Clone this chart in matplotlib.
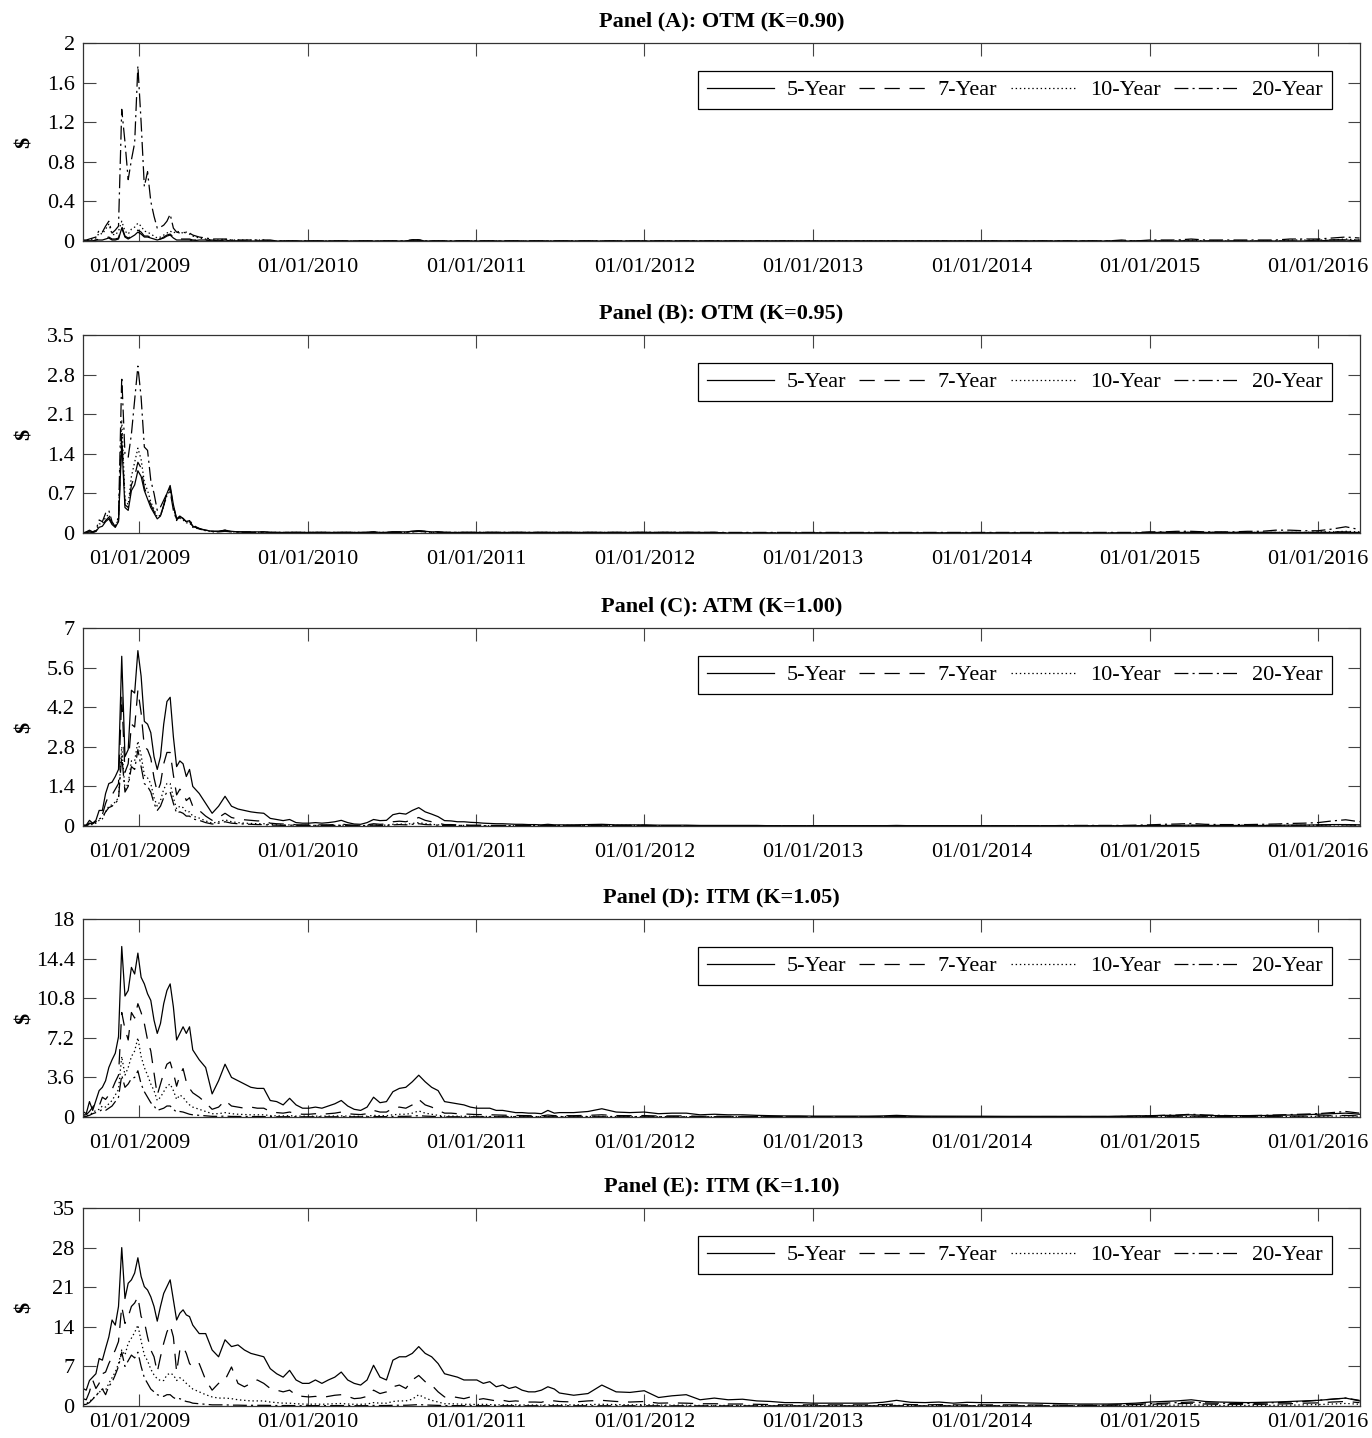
import matplotlib.pyplot as plt
import matplotlib.dates as mdates
from matplotlib.ticker import FixedLocator, FormatStrFormatter
import pandas as pd

plt.rcParams['font.family'] = ['Liberation Serif', 'DejaVu Serif']
plt.rcParams['lines.scale_dashes'] = False

# sample dates: weekly over the crisis, bi-weekly to mid 2011, monthly after
dates = (list(pd.date_range('2008-09-01', '2009-04-27', freq='7D'))
         + list(pd.date_range('2009-05-11', '2011-06-20', freq='14D'))
         + list(pd.date_range('2011-07-01', '2016-03-01', freq='MS'))
         + [pd.Timestamp('2016-03-31')])

# ---------------- Panel A: OTM (K=0.90)
A_5Y = [
    0, 0, 0, 0, .01, .01, .01, .02, .03, .01,
    .01, .02, .13, .04, .02, .04, .06, .09, .07, .04,
    .04, .03, .02, .01, .02, .03, .05, .06, .03, .01,
    .01, .01, .01, .01, 0,
    .01, .01, 0, 0, .01, 0, 0, 0, 0, 0,
    0, 0, 0, 0, 0, 0, 0, 0, 0, 0,
    0, 0, 0, 0, 0, 0, 0, 0, 0, 0,
    0, 0, 0, .01, .01, 0, 0, 0, 0, 0,
    0, 0, 0, 0, 0, 0, 0, 0, 0, 0,
    0, 0, 0, 0, 0, 0,
    0, 0, 0, 0, 0, 0, 0, 0, 0, 0,
    0, 0, 0, 0, 0, 0, 0, 0, 0, 0,
    0, 0, 0, 0, 0, 0, 0, 0, 0, 0,
    0, 0, 0, 0, 0, 0, 0, 0, 0, 0,
    0, 0, 0, 0, 0, 0, 0, 0, 0, 0,
    0, 0, 0, 0, 0, .01, .01, 0,
]
A_7Y = [
    0, 0, 0, 0, .01, .02, .02, .03, .04, .02,
    .02, .03, .15, .05, .03, .05, .07, .11, .09, .05,
    .05, .04, .03, .02, .02, .04, .06, .07, .04, .02,
    .02, .02, .02, .02, .01,
    .01, .01, .01, 0, .01, 0, 0, 0, 0, 0,
    0, 0, 0, 0, 0, 0, 0, 0, 0, 0,
    0, 0, 0, 0, 0, 0, 0, 0, 0, 0,
    0, 0, 0, .01, .01, 0, 0, 0, 0, 0,
    0, 0, 0, 0, 0, 0, 0, 0, 0, 0,
    0, 0, 0, 0, 0, 0,
    0, 0, 0, 0, 0, 0, 0, 0, 0, 0,
    0, 0, 0, 0, 0, 0, 0, 0, 0, 0,
    0, 0, 0, 0, 0, 0, 0, 0, 0, 0,
    0, 0, 0, 0, 0, 0, 0, 0, 0, 0,
    0, 0, 0, 0, 0, 0, 0, 0, 0, 0,
    0, 0, 0, 0, .01, .01, .01, .01,
]
A_10Y = [
    0, 0, .01, .02, .03, .08, .07, .12, .17, .07,
    .06, .1, .2, .1, .07, .12, .14, .18, .15, .1,
    .09, .07, .05, .03, .04, .06, .08, .1, .08, .1,
    .09, .08, .09, .07, .05,
    .03, .02, .01, .01, .02, .01, .01, .01, .01, .01,
    .01, 0, 0, 0, 0, 0, 0, 0, 0, 0,
    0, 0, 0, 0, 0, 0, 0, 0, 0, 0,
    0, 0, 0, .01, .01, 0, 0, 0, 0, 0,
    0, 0, 0, 0, 0, 0, 0, 0, 0, 0,
    0, 0, 0, 0, 0, 0,
    0, 0, 0, 0, 0, 0, 0, 0, 0, 0,
    0, 0, 0, 0, 0, 0, 0, 0, 0, 0,
    0, 0, 0, 0, 0, 0, 0, 0, 0, 0,
    0, 0, 0, 0, 0, 0, 0, 0, 0, 0,
    0, 0, 0, 0, 0, .01, 0, 0, 0, 0,
    0, 0, .01, .01, .01, .01, .02, .01,
]
A_20Y = [
    .01, .01, .02, .03, .04, .11, .09, .15, .2, .08,
    .11, .15, 1.33, 1.0, .62, .82, .99, 1.77, 1.2, .55,
    .7, .4, .25, .13, .14, .16, .2, .27, .13, .09,
    .08, .09, .08, .08, .06,
    .04, .03, .02, .02, .02, .01, .01, .01, .01, .01,
    .01, .01, 0, 0, 0, 0, 0, 0, 0, 0,
    0, 0, 0, 0, 0, 0, 0, 0, 0, 0,
    0, 0, 0, .01, .01, 0, 0, 0, 0, 0,
    0, 0, 0, 0, 0, 0, 0, 0, 0, 0,
    0, 0, 0, 0, 0, 0,
    0, 0, 0, 0, 0, 0, 0, 0, 0, 0,
    0, 0, 0, 0, 0, 0, 0, 0, 0, 0,
    0, 0, 0, 0, 0, 0, 0, 0, 0, 0,
    0, 0, 0, 0, 0, 0, 0, 0, 0, 0,
    .01, 0, .01, .01, .01, .02, .01, .01, .01, .01,
    .01, .01, .02, .02, .02, .03, .04, .03,
]

# ---------------- Panel B: OTM (K=0.95)
B_5Y = [
    0, .01, .02, .01, .03, .1, .12, .2, .25, .15,
    .1, .2, 1.6, .45, .4, .75, .85, 1.1, 1.0, .75,
    .6, .45, .35, .25, .3, .5, .7, .84, .5, .25,
    .3, .25, .2, .22, .12,
    .07, .05, .03, .03, .05, .03, .02, .02, .02, .02,
    .02, .01, .01, .01, .01, .01, .01, .01, .01, .01,
    .01, .01, .01, .01, .01, .01, .01, .02, .01, .01,
    .02, .02, .02, .03, .04, .03, .02, .02, .01, .01,
    .01, .01, .01, .01, .01, .01, .01, .01, .01, .01,
    .01, .01, .01, .01, .01, .01,
    .01, .01, .01, .01, .01, .01, .01, .01, .01, .01,
    .01, .01, 0, 0, 0, 0, 0, 0, 0, 0,
    0, 0, 0, 0, 0, 0, 0, 0, 0, 0,
    0, 0, 0, 0, 0, 0, 0, 0, 0, 0,
    0, 0, .01, .01, .01, .01, .01, .01, .01, .01,
    .01, .01, .01, .01, .01, .01, .01, .01,
]
B_7Y = [
    0, .01, .02, .01, .03, .12, .14, .22, .28, .17,
    .11, .22, 1.75, .5, .45, .85, 1.0, 1.25, 1.15, .8,
    .65, .5, .38, .26, .3, .48, .68, .8, .48, .24,
    .28, .25, .2, .2, .12,
    .08, .05, .03, .03, .05, .03, .02, .02, .02, .02,
    .02, .01, .01, .01, .01, .01, .01, .01, .01, .01,
    .01, .01, .01, .01, .01, .01, .01, .02, .01, .01,
    .02, .02, .02, .03, .04, .03, .02, .02, .01, .01,
    .01, .01, .01, .01, .01, .01, .01, .01, .01, .01,
    .01, .01, .01, .01, .01, .01,
    .01, .01, .01, .01, .01, .01, .01, .01, .01, .01,
    .01, .01, 0, 0, 0, 0, 0, 0, 0, 0,
    0, 0, 0, 0, 0, 0, 0, 0, 0, 0,
    0, 0, 0, 0, 0, 0, 0, 0, 0, 0,
    0, 0, .01, .01, .01, .01, .01, .01, .01, .01,
    .01, .01, .01, .01, .01, .02, .02, .01,
]
B_10Y = [
    0, .01, .03, .02, .04, .16, .16, .28, .33, .18,
    .11, .25, 2.0, .6, .5, 1.0, 1.25, 1.5, 1.3, .9,
    .75, .55, .42, .28, .32, .48, .66, .75, .45, .22,
    .26, .23, .18, .18, .1,
    .07, .04, .02, .02, .04, .02, .02, .01, .01, .01,
    .01, .01, .01, .01, .01, .01, .01, .01, .01, .01,
    .01, .01, .01, .01, .01, .01, .01, .01, .01, .01,
    .01, .01, .01, .02, .03, .02, .01, .01, .01, .01,
    .01, .01, .01, .01, .01, .01, .01, .01, .01, .01,
    .01, .01, .01, .01, .01, .01,
    .01, .01, .01, .01, .01, .01, .01, .01, .01, .01,
    0, 0, 0, 0, 0, 0, 0, 0, 0, 0,
    0, 0, 0, 0, 0, 0, 0, 0, 0, 0,
    0, 0, 0, 0, 0, 0, 0, 0, 0, 0,
    0, 0, .01, .01, .01, .01, .01, .01, .01, .01,
    .01, .01, .01, .01, .02, .02, .03, .02,
]
B_20Y = [
    0, .02, .05, .02, .05, .23, .2, .35, .4, .2,
    .11, .29, 2.76, 1.4, 1.34, 1.75, 2.34, 2.95, 2.4, 1.52,
    1.46, .93, .7, .4, .46, .58, .7, .73, .4, .23,
    .29, .26, .2, .23, .14,
    .08, .05, .03, .02, .03, .02, .02, .01, .01, .01,
    .01, .01, .01, .01, .01, .01, .01, .01, .01, .01,
    .01, .01, .01, .01, .01, .01, .01, .01, .01, .01,
    .01, .01, .01, .02, .03, .02, .01, .01, .01, .01,
    .01, .01, .01, .01, .01, .01, .01, .01, .01, .01,
    .01, .01, .01, .01, .01, .01,
    .01, .01, .01, .01, .01, .01, .01, .01, .01, .01,
    .01, .01, .01, .01, .01, .01, .01, .01, .01, .01,
    .01, .01, .01, .01, .01, .01, .01, .01, .01, .01,
    .01, .01, .01, .01, .01, .01, .01, .01, .01, .01,
    .01, .01, .02, .02, .03, .03, .02, .02, .02, .03,
    .03, .05, .05, .04, .04, .07, .11, .06,
]

# ---------------- Panel C: ATM (K=1.00)
C_5Y = [
    .03, .03, .2, .1, .2, .55, .55, 1.15, 1.5, 1.55,
    1.75, 2.0, 6.0, 2.45, 2.7, 4.8, 4.7, 6.2, 5.3, 3.7,
    3.6, 3.3, 2.45, 2.0, 2.45, 3.6, 4.4, 4.55, 3.15, 2.1,
    2.3, 2.2, 1.75, 2.0, 1.4,
    1.15, .8, .45, .7, 1.05, .7, .6, .55, .5, .47,
    .45, .27, .23, .19, .23, .12, .1, .1, .12, .1,
    .12, .15, .2, .12, .07, .06, .12, .23, .19, .2,
    .4, .45, .42, .55, .65, .5, .42, .33, .19, .18,
    .15, .15, .13, .12, .1, .09, .08, .08, .07, .06,
    .06, .05, .05, .04, .06, .04,
    .04, .04, .05, .06, .04, .04, .04, .03, .03, .03,
    .02, .02, .02, .02, .02, .01, .01, .01, .01, .01,
    .01, .01, .01, .01, .02, .01, .01, .01, .01, .01,
    .01, .01, .01, .01, .01, .01, .01, .01, .01, .01,
    .01, .01, .02, .02, .02, .03, .02, .02, .02, .02,
    .02, .02, .03, .03, .04, .05, .05, .04,
]
C_7Y = [
    .02, .02, .1, .08, .15, .35, .4, .8, 1.1, 1.1,
    1.3, 1.5, 4.6, 1.9, 2.2, 3.6, 3.5, 4.8, 4.0, 2.8,
    2.7, 2.4, 1.7, 1.2, 1.5, 2.2, 2.6, 2.6, 1.8, 1.1,
    1.3, 1.2, .9, 1.0, .7,
    .55, .35, .2, .3, .45, .3, .25, .22, .2, .18,
    .18, .1, .08, .07, .08, .04, .04, .04, .04, .04,
    .04, .05, .07, .04, .03, .02, .04, .08, .06, .07,
    .15, .17, .15, .22, .3, .2, .15, .1, .05, .05,
    .04, .04, .03, .03, .03, .02, .02, .02, .02, .02,
    .02, .02, .02, .02, .02, .02,
    .02, .02, .02, .03, .02, .02, .02, .01, .01, .01,
    .01, .01, .01, .01, .01, .01, .01, .01, .01, .01,
    .01, .01, .01, .01, .01, .01, .01, .01, .01, .01,
    .01, .01, .01, .01, .01, .01, .01, .01, .01, .01,
    .01, .01, .01, .01, .02, .02, .02, .02, .02, .02,
    .02, .02, .02, .03, .03, .04, .04, .03,
]
C_10Y = [
    .01, .01, .05, .05, .1, .2, .25, .5, .7, .75,
    .85, 1.0, 2.8, 1.3, 1.5, 2.3, 2.3, 3.0, 2.5, 1.8,
    1.7, 1.5, 1.0, .7, .9, 1.3, 1.5, 1.5, 1.0, .6,
    .7, .65, .5, .5, .35,
    .28, .18, .1, .15, .22, .15, .12, .1, .09, .08,
    .08, .05, .04, .03, .04, .02, .02, .02, .02, .02,
    .02, .02, .03, .02, .01, .01, .02, .04, .03, .03,
    .06, .07, .06, .09, .12, .08, .06, .04, .02, .02,
    .02, .02, .01, .01, .01, .01, .01, .01, .01, .01,
    .01, .01, .01, .01, .01, .01,
    .02, .02, .02, .03, .02, .02, .02, .01, .01, .01,
    .01, .01, .01, .01, .01, .01, .01, .01, .01, .01,
    .01, .01, .01, .01, .01, .01, .01, .01, .01, .01,
    .01, .01, .01, .01, .01, .01, .01, .01, .01, .01,
    .01, .01, .01, .01, .01, .02, .01, .01, .01, .01,
    .01, .02, .02, .02, .03, .04, .04, .03,
]
C_20Y = [
    .01, .02, .08, .1, .15, .25, .3, .5, .65, .7,
    .8, .95, 2.5, 1.2, 1.4, 2.1, 2.0, 2.7, 2.1, 1.5,
    1.4, 1.2, .8, .55, .7, 1.0, 1.2, 1.2, .8, .45,
    .5, .45, .35, .35, .25,
    .2, .12, .07, .1, .15, .1, .08, .07, .06, .05,
    .05, .03, .03, .02, .03, .02, .02, .02, .02, .02,
    .02, .02, .02, .02, .01, .01, .02, .03, .02, .02,
    .04, .05, .04, .06, .08, .05, .04, .03, .02, .02,
    .02, .02, .01, .01, .01, .01, .01, .01, .01, .01,
    .01, .01, .01, .01, .01, .01,
    .01, .01, .01, .01, .01, .01, .01, .01, .01, .01,
    .01, .01, .01, .01, .01, .01, .01, .01, .01, .01,
    .01, .01, .01, .01, .01, .01, .01, .01, .01, .01,
    .01, .01, .01, .01, .01, .01, .02, .02, .02, .02,
    .02, .03, .04, .06, .07, .09, .06, .05, .05, .05,
    .06, .07, .09, .1, .12, .18, .22, .15,
]

# ---------------- Panel D: ITM (K=1.05)
D_5Y = [
    .5, .3, 1.4, .6, 1.5, 2.4, 2.7, 3.3, 4.5, 5.2,
    5.8, 7.3, 15.5, 11.0, 11.5, 13.6, 13.0, 14.9, 12.7, 12.1,
    11.2, 10.6, 8.8, 7.6, 8.5, 10.3, 11.5, 12.1, 10.0, 7.0,
    7.6, 8.2, 7.6, 8.2, 6.1,
    5.2, 4.5, 2.1, 3.3, 4.8, 3.6, 3.3, 3.0, 2.7, 2.6,
    2.6, 1.5, 1.4, 1.1, 1.7, 1.1, .8, .8, .9, .8,
    1.0, 1.2, 1.5, 1.0, .7, .6, .9, 1.8, 1.3, 1.4,
    2.3, 2.6, 2.7, 3.2, 3.8, 3.2, 2.7, 2.4, 1.4, 1.3,
    1.2, 1.1, .9, .8, .8, .8, .6, .6, .5, .4,
    .4, .35, .35, .3, .6, .35,
    .4, .4, .5, .75, .45, .4, .45, .3, .35, .35,
    .2, .25, .2, .2, .15, .12, .1, .1, .08, .08,
    .08, .08, .08, .1, .15, .1, .08, .08, .07, .07,
    .07, .06, .06, .06, .06, .05, .05, .05, .05, .06,
    .08, .1, .12, .15, .15, .2, .15, .12, .12, .12,
    .13, .15, .18, .2, .25, .3, .35, .25,
]
D_7Y = [
    .2, .2, .5, .9, 1.3, 1.0, 1.8, 1.6, 2.0, 2.5,
    3.2, 3.8, 9.5, 8.0, 7.0, 9.5, 9.0, 10.3, 9.5, 8.5,
    7.0, 6.0, 4.0, 2.0, 3.0, 4.0, 4.8, 5.0, 4.0, 2.8,
    3.8, 4.4, 3.2, 2.6, 2.2,
    1.8, 1.3, .7, .9, 1.5, 1.0, .9, .8, .9, .8,
    .8, .5, .4, .35, .45, .3, .25, .25, .3, .25,
    .3, .35, .45, .3, .25, .22, .3, .6, .45, .45,
    .8, .9, .8, 1.1, 1.6, 1.1, .9, .6, .35, .35,
    .3, .28, .25, .22, .22, .2, .18, .17, .15, .14,
    .13, .12, .12, .1, .18, .12,
    .12, .12, .15, .2, .13, .12, .13, .09, .1, .1,
    .06, .07, .06, .06, .05, .04, .03, .03, .03, .03,
    .03, .03, .03, .03, .05, .03, .03, .03, .03, .03,
    .03, .03, .03, .02, .02, .02, .02, .02, .02, .02,
    .03, .04, .05, .06, .06, .08, .06, .05, .05, .05,
    .05, .06, .07, .08, .1, .12, .14, .1,
]
D_10Y = [
    .1, .1, .2, .4, .6, .7, 1.0, .9, 1.2, 1.5,
    2.0, 2.5, 5.5, 3.8, 4.5, 5.5, 6.0, 7.2, 5.5, 4.5,
    3.8, 3.0, 2.4, 1.5, 1.8, 2.3, 2.8, 3.0, 2.4, 1.6,
    2.0, 1.8, 1.4, 1.1, .9,
    .7, .5, .3, .3, .4, .3, .25, .22, .2, .2,
    .2, .13, .1, .1, .12, .08, .07, .07, .07, .07,
    .08, .09, .1, .08, .06, .06, .07, .15, .12, .12,
    .2, .25, .25, .35, .55, .35, .25, .15, .08, .08,
    .07, .07, .06, .06, .05, .05, .05, .04, .04, .04,
    .04, .04, .04, .03, .05, .04,
    .04, .04, .05, .06, .04, .04, .04, .03, .03, .03,
    .02, .02, .02, .02, .02, .01, .01, .01, .01, .01,
    .01, .01, .01, .01, .02, .01, .01, .01, .01, .01,
    .01, .01, .01, .01, .01, .01, .01, .01, .01, .01,
    .01, .02, .02, .03, .03, .04, .03, .03, .03, .03,
    .03, .03, .04, .05, .06, .08, .1, .07,
]
D_20Y = [
    .05, .05, .15, .3, .4, .5, .7, .6, .8, 1.0,
    1.4, 1.8, 3.8, 2.7, 3.0, 3.5, 3.6, 4.2, 3.0, 2.3,
    1.8, 1.3, 1.0, .6, .7, .8, 1.0, 1.0, .7, .45,
    .5, .45, .35, .25, .2,
    .15, .1, .06, .06, .08, .05, .05, .04, .04, .04,
    .04, .03, .02, .02, .03, .02, .02, .02, .02, .02,
    .02, .02, .02, .02, .01, .01, .02, .04, .03, .03,
    .05, .06, .06, .08, .12, .08, .06, .04, .02, .02,
    .02, .02, .02, .02, .02, .01, .01, .01, .01, .01,
    .01, .01, .01, .01, .02, .01,
    .01, .01, .02, .02, .01, .01, .01, .01, .01, .01,
    .01, .01, .01, .01, .01, .01, .01, .01, .01, .01,
    .01, .01, .01, .01, .02, .01, .01, .01, .01, .01,
    .01, .01, .01, .01, .01, .01, .01, .01, .02, .03,
    .05, .08, .1, .15, .18, .25, .18, .15, .12, .12,
    .15, .18, .22, .25, .3, .4, .5, .35,
]

# ---------------- Panel E: ITM (K=1.10)
E_5Y = [
    3.1, 2.8, 4.5, 5.1, 5.7, 8.4, 8.1, 10.2, 12.2, 15.2,
    14.3, 17.6, 28.0, 19.0, 21.7, 22.3, 23.5, 26.2, 22.9, 21.1,
    20.5, 19.3, 17.6, 15.0, 17.6, 19.9, 21.1, 22.3, 18.8, 15.2,
    16.4, 17.0, 16.1, 15.8, 14.3,
    12.8, 12.8, 9.9, 8.7, 11.7, 10.5, 10.8, 9.9, 9.3, 9.0,
    8.7, 6.6, 5.7, 5.1, 6.3, 4.6, 4.0, 4.0, 4.6, 4.0,
    4.6, 5.1, 6.0, 4.6, 4.0, 3.7, 4.6, 7.2, 5.1, 4.6,
    8.1, 8.7, 8.7, 9.3, 10.5, 9.3, 8.7, 7.5, 5.7, 5.4,
    5.1, 4.6, 4.6, 4.6, 4.0, 4.3, 3.4, 3.7, 3.1, 3.4,
    2.8, 2.5, 2.5, 2.8, 3.4, 3.0,
    2.3, 1.9, 2.2, 3.7, 2.5, 2.4, 2.7, 1.5, 1.8, 2.0,
    1.1, 1.4, 1.1, 1.2, .9, .8, .6, .6, .5, .5,
    .5, .5, .5, .65, 1.0, .65, .6, .7, .5, .65,
    .6, .6, .6, .55, .5, .45, .4, .35, .35, .35,
    .4, .5, .7, .8, .9, 1.1, .8, .7, .65, .6,
    .65, .7, .8, .9, 1.0, 1.2, 1.4, .9,
]
E_7Y = [
    1.3, 1.1, 2.5, 4.6, 3.1, 4.0, 5.7, 6.0, 7.5, 8.7,
    9.9, 11.4, 17.6, 14.6, 15.8, 17.6, 18.2, 19.3, 15.8, 14.9,
    12.2, 9.9, 8.7, 6.0, 8.7, 11.1, 13.1, 14.3, 12.2, 6.0,
    9.9, 10.5, 9.3, 7.5, 6.9,
    7.5, 4.6, 2.8, 4.0, 4.6, 6.9, 4.0, 3.4, 4.0, 4.6,
    4.0, 3.1, 2.8, 2.5, 2.8, 1.9, 1.7, 1.6, 1.7, 1.5,
    1.7, 1.9, 2.0, 1.7, 1.3, 1.4, 1.7, 2.8, 2.2, 2.5,
    3.4, 3.7, 3.1, 4.6, 5.4, 4.3, 3.7, 2.5, 1.6, 1.7,
    1.5, 1.3, 1.6, 1.1, 1.3, 1.1, .9, 1.0, .8, .9,
    .8, .7, .7, .65, 1.0, .9,
    .8, .7, .9, 1.0, .8, .7, .8, .5, .55, .5,
    .4, .4, .35, .35, .3, .25, .2, .2, .2, .2,
    .2, .2, .2, .25, .35, .25, .2, .25, .2, .2,
    .2, .2, .2, .18, .17, .16, .15, .15, .15, .15,
    .2, .25, .3, .35, .4, .5, .35, .3, .3, .3,
    .3, .35, .4, .5, .55, .7, .8, .6,
]
E_10Y = [
    .3, .4, .8, 1.3, 1.8, 2.4, 3.0, 2.8, 4.0, 5.0,
    6.0, 7.5, 9.9, 9.0, 11.1, 12.0, 13.0, 14.3, 11.5, 9.0,
    8.0, 6.5, 5.5, 4.8, 4.5, 4.5, 5.5, 5.8, 5.5, 4.5,
    5.0, 4.6, 4.0, 3.5, 3.0,
    2.5, 2.0, 1.6, 1.4, 1.4, 1.3, 1.1, 1.0, .9, .9,
    .9, .7, .6, .5, .5, .4, .35, .3, .35, .3,
    .35, .4, .45, .35, .3, .3, .35, .6, .5, .5,
    .8, .9, .9, 1.2, 2.0, 1.4, 1.0, .7, .4, .4,
    .35, .3, .3, .25, .3, .25, .2, .2, .2, .2,
    .18, .17, .17, .15, .2, .2,
    .2, .2, .25, .3, .25, .2, .25, .15, .15, .15,
    .1, .1, .1, .1, .08, .07, .06, .06, .06, .06,
    .06, .06, .06, .07, .1, .07, .06, .07, .06, .06,
    .06, .06, .06, .05, .05, .05, .05, .05, .05, .05,
    .06, .08, .1, .12, .15, .2, .12, .1, .1, .1,
    .1, .12, .15, .2, .25, .35, .45, .3,
]
E_20Y = [
    .2, .3, .6, 1.2, 1.8, 2.5, 3.0, 2.0, 3.5, 4.2,
    5.5, 7.0, 9.5, 7.0, 8.0, 9.0, 8.5, 9.5, 7.0, 5.0,
    4.0, 3.0, 2.5, 2.0, 1.8, 1.7, 2.0, 2.0, 1.5, 1.2,
    1.3, 1.0, .8, .7, .5,
    .4, .3, .2, .2, .2, .15, .15, .12, .12, .12,
    .12, .1, .08, .08, .08, .06, .06, .06, .06, .06,
    .06, .07, .08, .06, .05, .05, .06, .1, .08, .08,
    .12, .14, .13, .18, .25, .18, .14, .1, .07, .07,
    .06, .06, .06, .05, .05, .05, .05, .04, .04, .04,
    .04, .04, .04, .04, .05, .04,
    .04, .04, .05, .05, .04, .04, .04, .04, .04, .04,
    .03, .03, .03, .03, .03, .03, .03, .03, .03, .03,
    .03, .03, .03, .03, .05, .03, .03, .03, .03, .03,
    .03, .03, .03, .03, .03, .04, .05, .07, .1, .15,
    .2, .3, .4, .5, .6, .7, .55, .5, .45, .45,
    .5, .6, .7, .8, 1.0, 1.2, 1.4, 1.0,
]

panels = [
    ('Panel (A): OTM (K=0.90)', [A_5Y, A_7Y, A_10Y, A_20Y], [0, 0.4, 0.8, 1.2, 1.6, 2]),
    ('Panel (B): OTM (K=0.95)', [B_5Y, B_7Y, B_10Y, B_20Y], [0, 0.7, 1.4, 2.1, 2.8, 3.5]),
    ('Panel (C): ATM (K=1.00)', [C_5Y, C_7Y, C_10Y, C_20Y], [0, 1.4, 2.8, 4.2, 5.6, 7]),
    ('Panel (D): ITM (K=1.05)', [D_5Y, D_7Y, D_10Y, D_20Y], [0, 3.6, 7.2, 10.8, 14.4, 18]),
    ('Panel (E): ITM (K=1.10)', [E_5Y, E_7Y, E_10Y, E_20Y], [0, 7, 14, 21, 28, 35]),
]
labels = ['5-Year', '7-Year', '10-Year', '20-Year']
styles = ['-', (0, (11, 7)), (0, (1, 2)), (0, (10, 3, 1.5, 3))]

W, H = 1372, 1438
fig = plt.figure(figsize=(W / 100, H / 100), dpi=100)
bottoms_px = [241, 533, 826, 1117, 1406]
ax_h = 198
left_px, right_px = 83, 1360

for n, ((title, series, yt), bpx) in enumerate(zip(panels, bottoms_px)):
    ax = fig.add_axes([left_px / W, 1 - bpx / H, (right_px - left_px) / W, ax_h / H])
    for vals, lab, ls in zip(series, labels, styles):
        ax.plot(dates, vals, color='black', lw=0.9, linestyle=ls, label=lab)
    ax.set_xlim(pd.Timestamp('2008-09-01'), pd.Timestamp('2016-04-01'))
    ax.set_ylim(yt[0], yt[-1])
    ax.yaxis.set_major_locator(FixedLocator(yt))
    ax.yaxis.set_major_formatter(FormatStrFormatter('%g'))
    ax.xaxis.set_major_locator(mdates.YearLocator())
    ax.xaxis.set_major_formatter(mdates.DateFormatter('%m/%d/%Y'))
    ax.tick_params(direction='in', top=True, right=True, length=9, width=0.8,
                   color='#444444', labelsize=16, pad=6)
    # last panel sits at the bottom edge of the page
    ax.tick_params(axis='x', pad=12 if n < 4 else 5)
    for s in ax.spines.values():
        s.set_color('#333333')
        s.set_linewidth(0.9)
    ax.set_title(title, fontsize=16, fontweight='bold', pad=12)
    ax.set_ylabel('$', fontsize=16, fontweight='bold')
    ax.yaxis.set_label_coords(-0.038, 0.5)
    leg = ax.legend(ncol=4, loc='upper right',
                    bbox_to_anchor=(1 - 28 / 1277, 1 - 28 / ax_h), borderaxespad=0,
                    fontsize=16, handlelength=3.0, handletextpad=0.55,
                    columnspacing=0.6, borderpad=0.4, fancybox=False,
                    edgecolor='black', framealpha=1)
    leg.get_frame().set_linewidth(0.9)

fig.savefig('out.png', dpi=100)
